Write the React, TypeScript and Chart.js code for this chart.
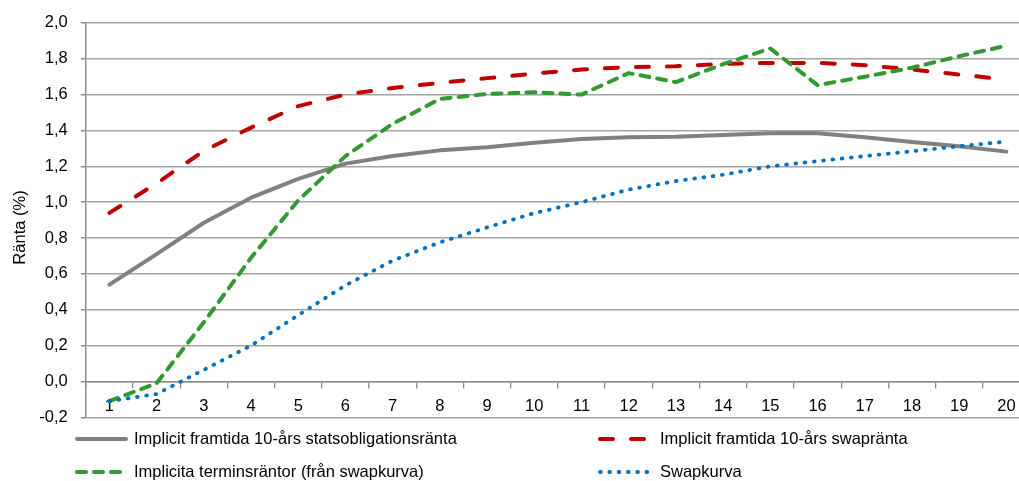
import React, { useEffect, useRef } from "react";
import { Chart, registerables } from "chart.js";

Chart.register(...registerables);

// ---- Data ----
const categories = [
  "1", "2", "3", "4", "5", "6", "7", "8", "9", "10",
  "11", "12", "13", "14", "15", "16", "17", "18", "19", "20",
];

const statsobligationsranta = [
  0.54, 0.71, 0.885, 1.025, 1.13, 1.215, 1.257, 1.289, 1.307, 1.331,
  1.353, 1.362, 1.365, 1.375, 1.384, 1.384, 1.362, 1.336, 1.312, 1.282,
];

const swapranta = [
  0.94, 1.105, 1.286, 1.416, 1.536, 1.6, 1.637, 1.665, 1.692, 1.717,
  1.74, 1.753, 1.758, 1.771, 1.777, 1.777, 1.764, 1.74, 1.712, 1.684,
];

const terminsrantor = [
  -0.11, -0.01, 0.33, 0.69, 1.01, 1.257, 1.437, 1.576, 1.604, 1.613,
  1.6, 1.72, 1.67, 1.77, 1.857, 1.653, 1.7, 1.75, 1.814, 1.873,
];

const swapkurva = [
  -0.11, -0.07, 0.065, 0.2, 0.37, 0.536, 0.674, 0.776, 0.859, 0.939,
  1.0, 1.07, 1.118, 1.153, 1.2, 1.229, 1.257, 1.284, 1.312, 1.338,
];

const seriesNames = [
  "Implicit framtida 10-års statsobligationsränta",
  "Implicit framtida 10-års swapränta",
  "Implicita terminsräntor (från swapkurva)",
  "Swapkurva",
];

const yTickValues = [-0.2, 0, 0.2, 0.4, 0.6, 0.8, 1.0, 1.2, 1.4, 1.6, 1.8, 2.0];
const yAxisTitle = "Ränta (%)";

// ---- Styles ----
const FONT_FAMILY = "'Liberation Sans', Arial, sans-serif";
const FONT_SIZE = 16.5;
const TEXT_COLOR = "#000000";
const GRID_COLOR = "#a3a3a3";
const AXIS_COLOR = "#8c8c8c";

const legendLayout = [
  { ds: 0, x1: 77, x2: 126, tx: 134, y: 439 },
  { ds: 1, x1: 600, x2: 646, tx: 660, y: 439 },
  { ds: 2, x1: 77, x2: 120, tx: 134, y: 472 },
  { ds: 3, x1: 600, x2: 648, tx: 660, y: 472 },
];

const fmt = (v: number) => (Math.abs(v) < 1e-9 ? 0 : v).toFixed(1).replace(".", ",");

const customDecor = {
  id: "customDecor",
  afterDraw(chart: any) {
    const ctx = chart.ctx as CanvasRenderingContext2D;
    ctx.save();
    // legend
    legendLayout.forEach((it) => {
      const ds = chart.data.datasets[it.ds];
      ctx.save();
      ctx.beginPath();
      ctx.strokeStyle = ds.borderColor;
      ctx.lineWidth = ds.borderWidth;
      ctx.lineCap = ds.borderCapStyle || "butt";
      ctx.setLineDash(ds.borderDash || []);
      ctx.moveTo(it.x1, it.y);
      ctx.lineTo(it.x2, it.y);
      ctx.stroke();
      ctx.restore();
      ctx.fillStyle = TEXT_COLOR;
      ctx.font = `${FONT_SIZE}px ${FONT_FAMILY}`;
      ctx.textAlign = "left";
      ctx.textBaseline = "middle";
      ctx.fillText(seriesNames[it.ds], it.tx, it.y);
    });
    // y axis title
    ctx.translate(20, 227.5);
    ctx.rotate(-Math.PI / 2);
    ctx.fillStyle = TEXT_COLOR;
    ctx.font = `${FONT_SIZE}px ${FONT_FAMILY}`;
    ctx.textAlign = "center";
    ctx.textBaseline = "middle";
    ctx.fillText(yAxisTitle, 0, 0);
    ctx.restore();
  },
};

export default function App() {
  const canvasRef = useRef<HTMLCanvasElement>(null);

  useEffect(() => {
    if (!canvasRef.current) return;
    const chart = new Chart(canvasRef.current, {
      type: "line",
      data: {
        labels: categories,
        datasets: [
          {
            label: seriesNames[0],
            data: statsobligationsranta,
            borderColor: "#808080",
            borderWidth: 4,
            borderCapStyle: "round",
            borderJoinStyle: "round",
            pointRadius: 0,
            tension: 0,
            fill: false,
            order: 3,
          },
          {
            label: seriesNames[1],
            data: swapranta,
            borderColor: "#c00000",
            borderWidth: 4,
            borderDash: [13, 18],
            borderCapStyle: "round",
            borderJoinStyle: "round",
            pointRadius: 0,
            tension: 0,
            fill: false,
            order: 2,
          },
          {
            label: seriesNames[2],
            data: terminsrantor,
            borderColor: "#339933",
            borderWidth: 4,
            borderDash: [9, 8],
            borderCapStyle: "round",
            borderJoinStyle: "round",
            pointRadius: 0,
            tension: 0,
            fill: false,
            order: 1,
          },
          {
            label: seriesNames[3],
            data: swapkurva,
            borderColor: "#0070c0",
            borderWidth: 3.8,
            borderDash: [0.8, 8.5],
            borderCapStyle: "round",
            borderJoinStyle: "round",
            pointRadius: 0,
            tension: 0,
            fill: false,
            order: 0,
          },
        ],
      },
      options: {
        responsive: false,
        animation: false,
        devicePixelRatio: 1,
        layout: {
          padding: { top: 21.3, bottom: 481 - 417.3, left: 0, right: 10 },
        },
        plugins: {
          legend: { display: false },
          tooltip: { enabled: false },
          title: { display: false },
        },
        scales: {
          x: {
            type: "category",
            position: { y: 0 } as any,
            offset: true,
            grid: {
              offset: true,
              drawOnChartArea: false,
              drawTicks: true,
              tickLength: 6,
              color: AXIS_COLOR,
              lineWidth: 1.3,
            },
            border: { display: true, color: AXIS_COLOR, width: 1.5 },
            ticks: {
              color: TEXT_COLOR,
              font: { family: FONT_FAMILY, size: FONT_SIZE },
              padding: 9,
              maxRotation: 0,
              autoSkip: false,
            },
          },
          y: {
            type: "linear",
            position: "left",
            min: -0.2,
            max: 2.0,
            afterBuildTicks: (scale: any) => {
              scale.ticks = yTickValues.map((v) => ({ value: v }));
            },
            afterFit: (scale: any) => {
              scale.width = 85.8;
            },
            grid: {
              color: GRID_COLOR,
              lineWidth: 1.5,
              drawTicks: true,
              tickLength: 5,
              tickColor: AXIS_COLOR,
            },
            border: { display: true, color: AXIS_COLOR, width: 1.5 },
            ticks: {
              color: TEXT_COLOR,
              font: { family: FONT_FAMILY, size: FONT_SIZE },
              padding: 13,
              callback: (v: any) => fmt(Number(v)),
            },
          },
        },
      },
      plugins: [customDecor],
    });
    return () => chart.destroy();
  }, []);

  return (
    <div
      style={{
        position: "fixed",
        left: 0,
        top: 0,
        width: 1019,
        height: 481,
        overflow: "hidden",
        background: "#ffffff",
      }}
    >
      <canvas
        ref={canvasRef}
        width={1040}
        height={481}
        style={{ display: "block", width: 1040, height: 481 }}
      />
    </div>
  );
}
